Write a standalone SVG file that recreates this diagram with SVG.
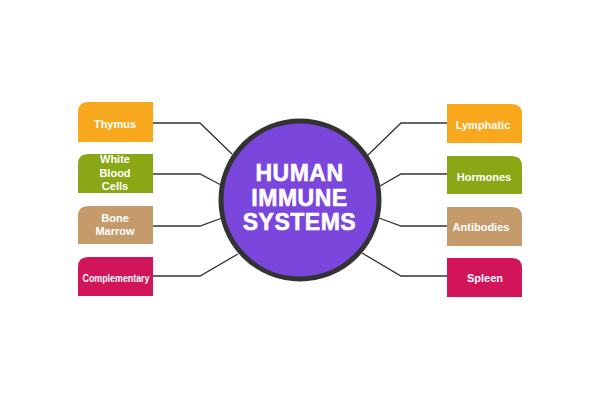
<svg xmlns="http://www.w3.org/2000/svg" width="600" height="400" viewBox="0 0 600 400">
<style>
.lbl{font-family:"Liberation Sans",Arial,sans-serif;font-weight:bold;font-size:11px;fill:#fff;text-anchor:middle}
.title{font-family:"Liberation Sans",Arial,sans-serif;font-weight:bold;font-size:23px;fill:#fff;stroke:#fff;stroke-width:0.6;text-anchor:middle;letter-spacing:0.5px}
.con{fill:none;stroke:#333;stroke-width:1.3}
.orange{fill:#f8a81c}.green{fill:#8aa815}.tan{fill:#c59b6c}.red{fill:#d2145a}
</style>
<rect width="600" height="400" fill="#fff"/>
<g id="connectors">
<polyline class="con" points="153,123 200,123 232,154"/>
<polyline class="con" points="153,174 200,174 221,185"/>
<polyline class="con" points="153,226 200,226 222,218"/>
<polyline class="con" points="153,276 200,276 238,254"/>
<polyline class="con" points="447,123 401,123 368,155"/>
<polyline class="con" points="447,174 401,174 380,186"/>
<polyline class="con" points="447,226 401,226 379,218"/>
<polyline class="con" points="447,276 401,276 362,253"/>
</g>
<g id="center">
<circle cx="300" cy="200" r="79" fill="#7b46dc" stroke="#333" stroke-width="5"/>
<text class="title" x="299.5" y="180.5">HUMAN</text>
<text class="title" x="299.5" y="205.5">IMMUNE</text>
<text class="title" x="299.5" y="229.5">SYSTEMS</text>
</g>
<g id="thymus">
<path class="orange" d="M153,102 V142 H78 V112 Q78,102 88,102 Z"/>
<text class="lbl" x="115" y="128">Thymus</text>
</g>
<g id="white-blood-cells">
<path class="green" d="M153,154 V193 H78 V164 Q78,154 88,154 Z"/>
<text class="lbl" x="115" y="163">White</text>
<text class="lbl" x="115" y="177">Blood</text>
<text class="lbl" x="115" y="190">Cells</text>
</g>
<g id="bone-marrow">
<path class="tan" d="M153,206 V244 H78 V216 Q78,206 88,206 Z"/>
<text class="lbl" x="115" y="222">Bone</text>
<text class="lbl" x="115" y="235">Marrow</text>
</g>
<g id="complementary">
<path class="red" d="M153,257 V296 H78 V267 Q78,257 88,257 Z"/>
<text class="lbl" x="116" y="282" textLength="67" lengthAdjust="spacingAndGlyphs">Complementary</text>
</g>
<g id="lymphatic">
<path class="orange" d="M447,104 H512 Q522,104 522,114 V143 H447 Z"/>
<text class="lbl" x="483" y="129">Lymphatic</text>
</g>
<g id="hormones">
<path class="green" d="M447,156 H512 Q522,156 522,166 V194 H447 Z"/>
<text class="lbl" x="484" y="181">Hormones</text>
</g>
<g id="antibodies">
<path class="tan" d="M447,207 H512 Q522,207 522,217 V246 H447 Z"/>
<text class="lbl" x="481" y="231">Antibodies</text>
</g>
<g id="spleen">
<path class="red" d="M447,258 H512 Q522,258 522,268 V297 H447 Z"/>
<text class="lbl" x="485" y="282">Spleen</text>
</g>
</svg>
